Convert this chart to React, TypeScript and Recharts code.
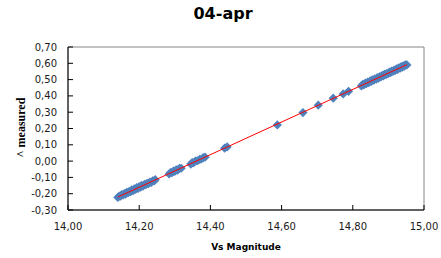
import React from 'react';
import { ReferenceArea, Scatter, ScatterChart, XAxis, YAxis } from 'recharts';

const lowX = [
  14.14, 14.144, 14.148, 14.151, 14.155, 14.158, 14.162, 14.165, 14.169, 14.172,
  14.176, 14.179, 14.183, 14.186, 14.19, 14.193, 14.197, 14.2, 14.204, 14.207,
  14.211, 14.215, 14.219, 14.222, 14.226, 14.23, 14.234, 14.238, 14.242, 14.245,
];
const lowY = [
  -0.223, -0.214, -0.215, -0.205, -0.208, -0.199, -0.202, -0.191, -0.194, -0.185,
  -0.188, -0.177, -0.181, -0.171, -0.174, -0.163, -0.167, -0.157, -0.16, -0.149,
  -0.153, -0.143, -0.145, -0.136, -0.138, -0.129, -0.13, -0.121, -0.122, -0.114,
];
const midX = [
  14.284, 14.288, 14.292, 14.296, 14.3, 14.304, 14.308, 14.313, 14.318,
  14.345, 14.349, 14.353, 14.358, 14.364, 14.37, 14.375, 14.38, 14.385,
];
const midY = [
  -0.079, -0.07, -0.071, -0.061, -0.063, -0.053, -0.055, -0.045, -0.044,
  -0.018, -0.009, -0.01, 0.0, 0.002, 0.011, 0.013, 0.021, 0.024,
];
const sparseX = [14.44, 14.447, 14.588, 14.66, 14.703, 14.745, 14.773, 14.788];
const sparseY = [0.079, 0.087, 0.222, 0.298, 0.343, 0.386, 0.412, 0.428];
const highX = [
  14.824, 14.828, 14.831, 14.835, 14.838, 14.842, 14.845, 14.849, 14.852, 14.855,
  14.859, 14.862, 14.866, 14.869, 14.872, 14.876, 14.879, 14.883, 14.886, 14.889,
  14.893, 14.896, 14.899, 14.903, 14.906, 14.909, 14.913, 14.916, 14.919, 14.923,
  14.926, 14.929, 14.933, 14.936, 14.939, 14.942, 14.945, 14.948, 14.952,
];
const highY = [
  0.461, 0.471, 0.468, 0.478, 0.475, 0.485, 0.482, 0.492, 0.489, 0.498,
  0.496, 0.505, 0.503, 0.512, 0.509, 0.519, 0.516, 0.526, 0.523, 0.532,
  0.53, 0.539, 0.536, 0.546, 0.543, 0.552, 0.55, 0.559, 0.556, 0.566,
  0.563, 0.572, 0.57, 0.579, 0.576, 0.585, 0.582, 0.591, 0.59,
];

const xTicks = [14, 14.2, 14.4, 14.6, 14.8, 15];
const yTicks = [-0.3, -0.2, -0.1, 0, 0.1, 0.2, 0.3, 0.4, 0.5, 0.6, 0.7];

const allX = [...lowX, ...midX, ...sparseX, ...highX];
const allY = [...lowY, ...midY, ...sparseY, ...highY];
const points = allX.map((x, i) => ({ x, y: allY[i] }));

// linear trendline (least squares) like Excel's
function fitLine(xs: number[], ys: number[]) {
  const n = xs.length;
  const mx = xs.reduce((a, b) => a + b, 0) / n;
  const my = ys.reduce((a, b) => a + b, 0) / n;
  let sxy = 0;
  let sxx = 0;
  xs.forEach((x, i) => {
    sxy += (x - mx) * (ys[i] - my);
    sxx += (x - mx) * (x - mx);
  });
  const slope = sxy / sxx;
  return (x: number) => my + slope * (x - mx);
}
const trend = fitLine(allX, allY);
const x0 = Math.min(...allX);
const x1 = Math.max(...allX);
const trendPoints = [
  { x: x0, y: trend(x0) },
  { x: x1, y: trend(x1) },
];

const comma = (v: number) => v.toFixed(2).replace('.', ',');
const tickFont = { fontFamily: 'DejaVu Sans', fontSize: 10, fill: '#1a1a1a' };

const Diamond = (props: any) => {
  const { cx, cy } = props;
  if (cx == null || cy == null) return null;
  const r = 4.6;
  return <path d={`M${cx},${cy - r}L${cx + r},${cy}L${cx},${cy + r}L${cx - r},${cy}Z`} fill="#4F81BD" />;
};
const NoDot = () => null;

export default function App() {
  return (
    <div style={{ position: 'absolute', left: 0, top: 0, width: 441, height: 258, background: '#fff' }}>
      <div
        style={{
          position: 'absolute',
          left: 0,
          top: 4,
          width: 446,
          textAlign: 'center',
          fontFamily: 'DejaVu Sans',
          fontWeight: 'bold',
          fontSize: 16,
          color: '#000',
        }}
      >
        04-apr
      </div>
      <ScatterChart width={441} height={258} margin={{ top: 47, right: 17, bottom: 0, left: 0 }}>
        <ReferenceArea x1={14} x2={15} y1={-0.3} y2={0.7} fill="none" stroke="#868686" strokeWidth={1} />
        <XAxis
          type="number"
          dataKey="x"
          domain={[14, 15]}
          ticks={xTicks}
          tickFormatter={comma}
          height={48}
          tickSize={-5}
          tickMargin={18}
          stroke="#000"
          tick={tickFont}
          label={({ viewBox }: any) => (
            <text
              x={viewBox.x + viewBox.width / 2}
              y={250}
              textAnchor="middle"
              fontFamily="DejaVu Sans"
              fontWeight="bold"
              fontSize={9}
              fill="#000"
            >
              Vs Magnitude
            </text>
          )}
        />
        <YAxis
          type="number"
          dataKey="y"
          domain={[-0.3, 0.7]}
          ticks={yTicks}
          tickFormatter={comma}
          width={68}
          tickSize={-5}
          tickMargin={16}
          stroke="#000"
          tick={tickFont}
          label={({ viewBox }: any) => {
            const cx = viewBox.x + 25;
            const cy = viewBox.y + viewBox.height / 2 - 1;
            return (
              <text
                x={cx}
                y={cy}
                transform={`rotate(-90, ${cx}, ${cy})`}
                textAnchor="middle"
                fontFamily="Liberation Serif"
                fontWeight="bold"
                fontSize={12}
                fill="#000"
              >
                ^ measured
              </text>
            );
          }}
        />
        <Scatter data={points} shape={Diamond} isAnimationActive={false} />
        <Scatter
          data={trendPoints}
          shape={NoDot}
          line={{ stroke: '#FF0000', strokeWidth: 1 }}
          isAnimationActive={false}
        />
      </ScatterChart>
    </div>
  );
}
